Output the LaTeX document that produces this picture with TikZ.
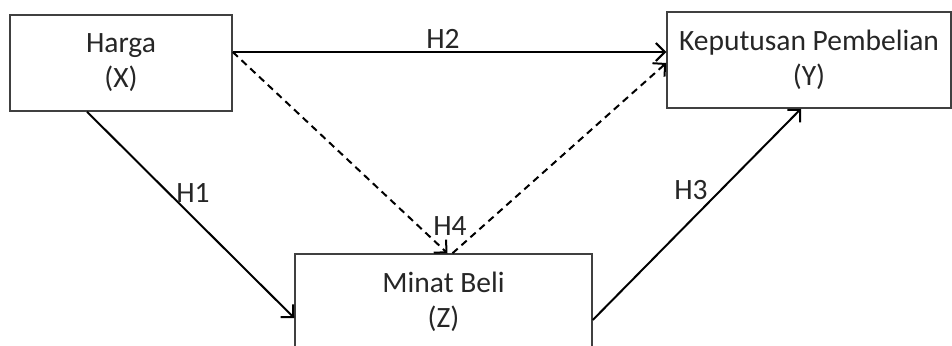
\documentclass[tikz,border=0pt]{standalone}
\usepackage{fontspec}
\setmainfont{Carlito}
\usetikzlibrary{arrows.meta}
\definecolor{txt}{HTML}{262626}
\definecolor{boxc}{HTML}{404040}
\begin{document}
\begin{tikzpicture}[x=1pt,y=-1pt,
  varbox/.style={draw=boxc,line width=1.5pt,rectangle,inner sep=0pt,align=center,text=txt,
    font=\fontsize{29.5}{35}\selectfont},
  lbl/.style={text=txt,font=\fontsize{29.5}{35}\selectfont,inner sep=0pt},
  conn/.style={line width=2pt,-{Straight Barb[length=9pt,width=18pt,line width=2pt]}},
  dconn/.style={conn,dash pattern=on 7pt off 5pt}]
\useasboundingbox (0,0) rectangle (952,345);
\clip (0,0) rectangle (952,345);
\node[varbox,minimum width=222pt,minimum height=96pt] (X) at (121,63) {Harga\\(X)};
\node[varbox,minimum width=284pt,minimum height=96pt] (Y) at (809,60) {Keputusan Pembelian\\(Y)};
\node[varbox,minimum width=297pt,minimum height=96pt] (Z) at (443.5,302) {Minat Beli\\(Z)};
\draw[conn] ([yshift=11pt]X.east) -- ([yshift=8pt]Y.west);
\draw[dconn] ([yshift=11pt]X.east) -- ([xshift=4pt]Z.north);
\draw[dconn] ([xshift=9pt]Z.north) -- ([yshift=-3pt]Y.west);
\draw[conn] ([xshift=-34pt]X.south) -- ([yshift=-16pt]Z.west);
\draw[conn] ([yshift=-18pt]Z.east) -- ([xshift=-8pt]Y.south);
\node[lbl] (h2) at (443,39) {H2};
\node[lbl] (h1) at (193,193) {H1};
\node[lbl] (h3) at (691,190) {H3};
\node[lbl] (h4) at (450,226) {H4};
\end{tikzpicture}
\end{document}
